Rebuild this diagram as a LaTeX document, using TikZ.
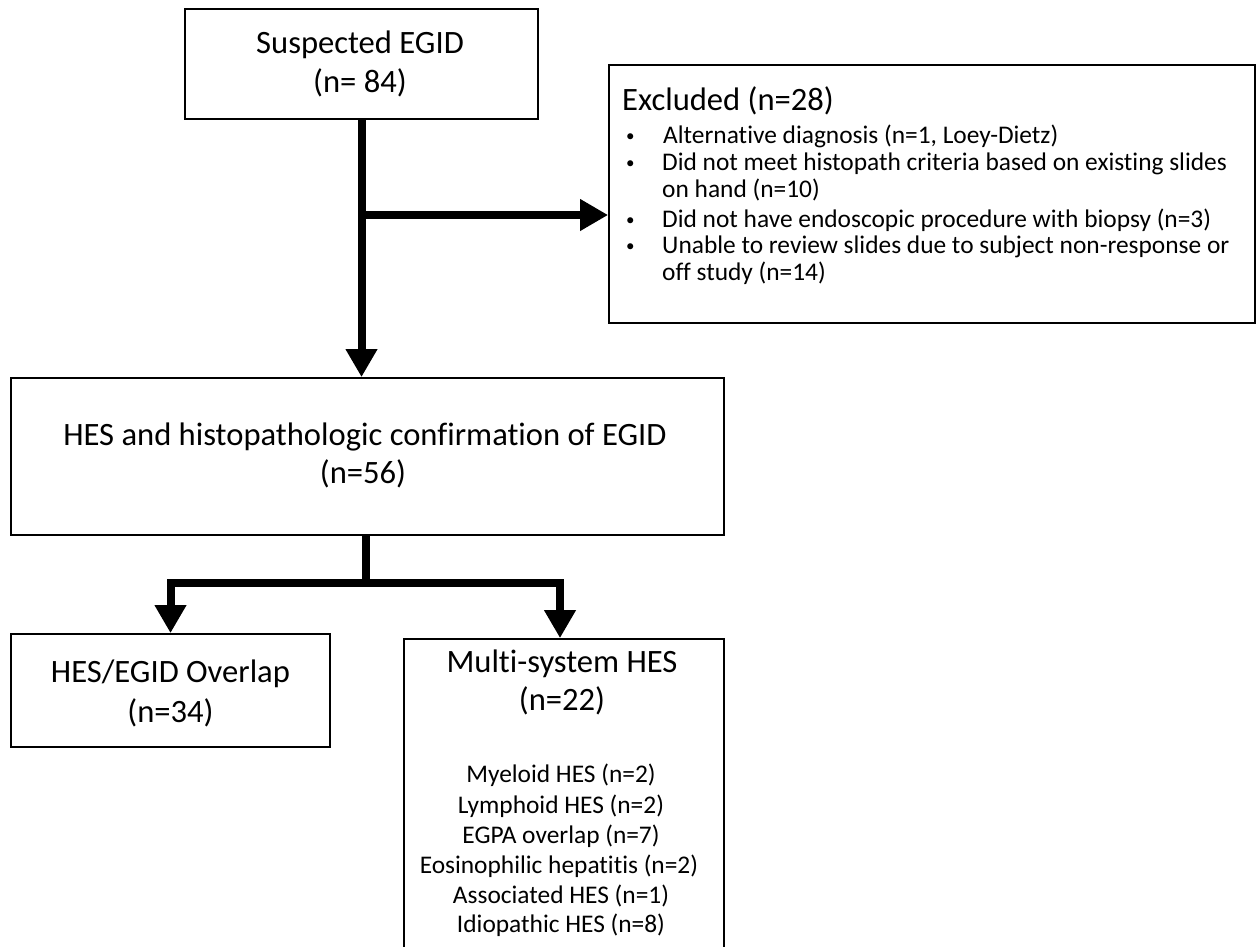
\documentclass[tikz,border=0pt]{standalone}
\usepackage{fontspec}
\setmainfont{Carlito}[Ligatures=NoCommon]
\usetikzlibrary{arrows.meta}
\begin{document}
\begin{tikzpicture}[x=1pt,y=-1pt,
  box/.style={draw, line width=1.8pt, inner sep=0pt},
  conn/.style={line width=8pt, line join=miter},
  arr/.style={conn, -{Triangle[length=28pt,width=30pt]}},
  big/.style={font=\fontsize{32.6}{39}\selectfont, inner sep=0pt},
  small/.style={font=\fontsize{25.4}{30}\selectfont, inner sep=0pt},
  dotb/.style={font=\fontsize{17}{20}\selectfont, inner sep=0pt}]
\useasboundingbox (0,0) rectangle (1259,946);
\clip (0,0) rectangle (1259,946);
\fill[white] (0,0) rectangle (1259,946);

% boxes
\node[box, minimum width=353pt, minimum height=110pt] (susp) at (361.5,64) {};
\node[box, minimum width=646pt, minimum height=258pt] (excl) at (932,194) {};
\node[box, minimum width=713pt, minimum height=157pt] (hes) at (367.5,456.5) {};
\node[box, minimum width=319pt, minimum height=113pt] (lft) at (170.5,690.5) {};
\node[box, minimum width=320pt, minimum height=400pt] (mult) at (564,839) {};

% texts
\node[big, anchor=base] (t1) at (360,53) {Suspected EGID};
\node[big, anchor=base] (t2) at (360,92) {(n= 84)};

\node[big, anchor=base west] (ex) at (622,110) {Excluded (n=28)};
\node[dotb, anchor=base west] (d1) at (626,141) {•};
\node[dotb, anchor=base west] (d2) at (626,168) {•};
\node[dotb, anchor=base west] (d3) at (626,225) {•};
\node[dotb, anchor=base west] (d4) at (626,251) {•};
\node[small, anchor=base west] (e1) at (663,143) {Alternative diagnosis (n=1, Loey-Dietz)};
\node[small, anchor=base west] (e2) at (662,170) {Did not meet histopath criteria based on existing slides};
\node[small, anchor=base west] (e3) at (662,197) {on hand (n=10)};
\node[small, anchor=base west] (e4) at (662,227) {Did not have endoscopic procedure with biopsy (n=3)};
\node[small, anchor=base west] (e5) at (662,253) {Unable to review slides due to subject non-response or};
\node[small, anchor=base west] (e6) at (662,280) {off study (n=14)};

\node[big, anchor=base] (h1) at (365,445) {HES and histopathologic confirmation of EGID};
\node[big, anchor=base] (h2) at (363,483) {(n=56)};

\node[big, anchor=base] (l1) at (170.5,682) {HES/EGID Overlap};
\node[big, anchor=base] (l2) at (170.5,722) {(n=34)};

\node[big, anchor=base] (m1) at (562,672) {Multi-system HES};
\node[big, anchor=base] (m2) at (562,710) {(n=22)};
\node[small, anchor=base] (s1) at (561,782) {Myeloid HES (n=2)};
\node[small, anchor=base] (s2) at (561,813) {Lymphoid HES (n=2)};
\node[small, anchor=base] (s3) at (561,843) {EGPA overlap (n=7)};
\node[small, anchor=base] (s4) at (559,873) {Eosinophilic hepatitis (n=2)};
\node[small, anchor=base] (s5) at (561,903) {Associated HES (n=1)};
\node[small, anchor=base] (s6) at (561,932) {Idiopathic HES (n=8)};

% connectors
\coordinate (br) at (361.5,215);
\coordinate (bar) at (366,583);
\draw[arr] (susp.south) -- (susp.south |- hes.north);
\draw[arr] (br) -- (br -| excl.west);
\draw[conn] (hes.south -| bar) -- (bar);
\draw[arr] (bar) -- (bar -| lft.north) -- (lft.north);
\draw[arr] (bar) -- (bar -| 560,0) -- (mult.north -| 560,0);
\end{tikzpicture}
\end{document}
